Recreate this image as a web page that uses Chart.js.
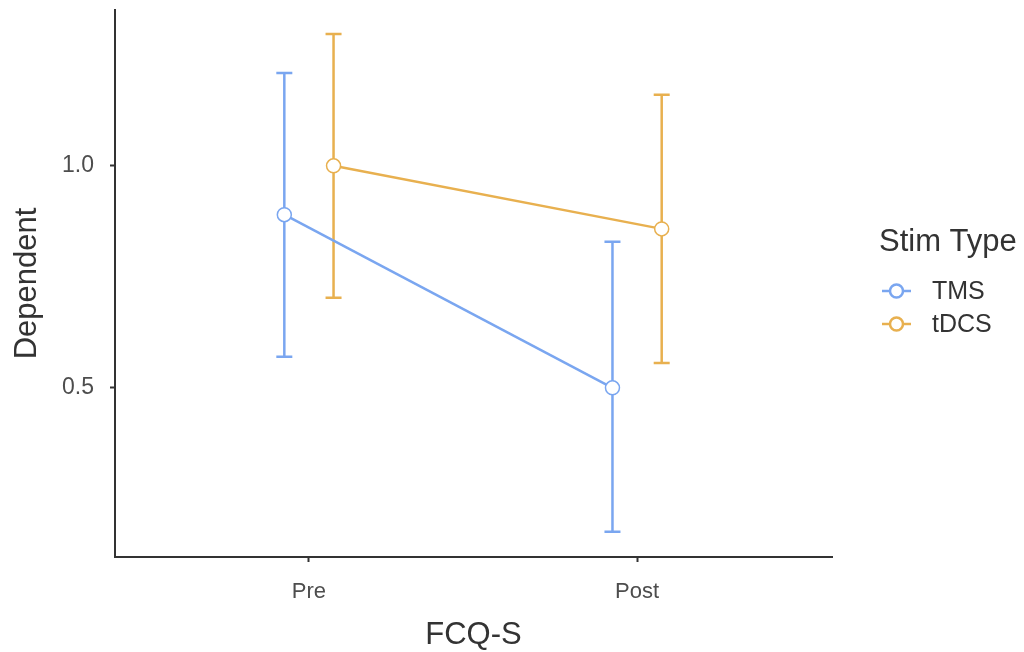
<!DOCTYPE html>
<html>
<head>
<meta charset="utf-8">
<script src="https://cdn.jsdelivr.net/npm/chart.js@4"></script>
<style>
  html, body { margin: 0; padding: 0; background: #fff; }
  #wrap { width: 1024px; height: 652px; position: relative; }
</style>
</head>
<body>
<div id="wrap"><canvas id="chart"></canvas></div>
<script>
// data
const categories = ['Pre', 'Post'];
const groups = ['TMS', 'tDCS'];
const tmsMean = [0.89, 0.50];
const tmsLower = [0.57, 0.176];
const tmsUpper = [1.209, 0.829];
const tdcsMean = [1.0, 0.858];
const tdcsLower = [0.703, 0.556];
const tdcsUpper = [1.297, 1.16];
const yTicks = [0.5, 1.0];

const colors = ['#7aa6f0', '#e8b04f'];
const dodge = [-0.075, 0.075];
const fontFam = '"Liberation Sans", Arial, sans-serif';

function pts(means, lows, highs, d) {
  return means.map((m, i) => ({ x: i + 1 + d, y: m, lo: lows[i], hi: highs[i] }));
}

const errorBars = {
  id: 'errorBars',
  beforeDatasetsDraw(chart) {
    const { ctx, scales: { x, y } } = chart;
    ctx.save();
    chart.data.datasets.forEach(ds => {
      ctx.strokeStyle = ds.borderColor;
      ctx.lineWidth = 2.5;
      ds.data.forEach(p => {
        const px = x.getPixelForValue(p.x);
        const top = y.getPixelForValue(p.hi);
        const bot = y.getPixelForValue(p.lo);
        ctx.beginPath();
        ctx.moveTo(px, top); ctx.lineTo(px, bot);
        ctx.moveTo(px - 8, top); ctx.lineTo(px + 8, top);
        ctx.moveTo(px - 8, bot); ctx.lineTo(px + 8, bot);
        ctx.stroke();
      });
    });
    ctx.restore();
  }
};

const legendBox = {
  id: 'legendBox',
  afterDraw(chart) {
    const ctx = chart.ctx;
    ctx.save();
    ctx.fillStyle = '#333';
    ctx.textBaseline = 'middle';
    ctx.textAlign = 'left';
    ctx.font = '31px ' + fontFam;
    ctx.fillText('Stim Type', 879, 242);
    chart.data.datasets.forEach((ds, i) => {
      const cy = 291 + i * 33;
      ctx.strokeStyle = ds.borderColor;
      ctx.lineWidth = 2.5;
      ctx.beginPath(); ctx.moveTo(882, cy); ctx.lineTo(911, cy); ctx.stroke();
      ctx.beginPath(); ctx.arc(896.5, cy, 6.5, 0, Math.PI * 2);
      ctx.fillStyle = '#fff'; ctx.fill(); ctx.stroke();
      ctx.fillStyle = '#333';
      ctx.font = '25px ' + fontFam;
      ctx.fillText(ds.label, 932, cy + 1);
    });
    ctx.restore();
  }
};

new Chart(document.getElementById('chart'), {
  type: 'scatter',
  data: {
    datasets: [
      { label: groups[0], data: pts(tmsMean, tmsLower, tmsUpper, dodge[0]) },
      { label: groups[1], data: pts(tdcsMean, tdcsLower, tdcsUpper, dodge[1]) }
    ].map((d, i) => Object.assign(d, {
      showLine: true,
      borderColor: colors[i],
      borderWidth: 2.5,
      pointRadius: 7,
      pointBorderWidth: 1.5,
      pointBackgroundColor: '#fff',
      pointBorderColor: colors[i]
    }))
  },
  options: {
    responsive: true,
    maintainAspectRatio: false,
    animation: false,
    layout: { padding: { top: 10, right: 192, left: 0, bottom: 0 } },
    plugins: { legend: { display: false }, tooltip: { enabled: false } },
    scales: {
      x: {
        type: 'linear',
        min: 0.409, max: 2.594,
        afterBuildTicks: ax => { ax.ticks = categories.map((c, i) => ({ value: i + 1 })); },
        afterFit: ax => { ax.height = 95; },
        ticks: {
          callback: v => categories[v - 1],
          color: '#4d4d4d',
          font: { family: fontFam, size: 22 },
          padding: 17
        },
        grid: { drawOnChartArea: false, tickLength: 5, tickColor: '#333', tickWidth: 2 },
        border: { color: '#333', width: 2 },
        title: {
          display: true, text: 'FCQ-S', color: '#333',
          font: { family: fontFam, size: 31, lineHeight: 1 },
          padding: { top: 0, bottom: 1 }
        }
      },
      y: {
        min: 0.119, max: 1.351,
        afterBuildTicks: ax => { ax.ticks = yTicks.map(v => ({ value: v })); },
        afterFit: ax => { ax.width = 115; ax.paddingTop = 0; ax.paddingBottom = 0; },
        ticks: {
          callback: v => v.toFixed(1),
          color: '#4d4d4d',
          font: { family: fontFam, size: 23 },
          padding: 16
        },
        grid: { drawOnChartArea: false, tickLength: 5, tickColor: '#333', tickWidth: 2 },
        border: { color: '#333', width: 2 },
        title: {
          display: true, text: 'Dependent', color: '#333',
          font: { family: fontFam, size: 31, lineHeight: 1 },
          padding: { top: 12, bottom: 0 }
        }
      }
    }
  },
  plugins: [errorBars, legendBox]
});
</script>
</body>
</html>
